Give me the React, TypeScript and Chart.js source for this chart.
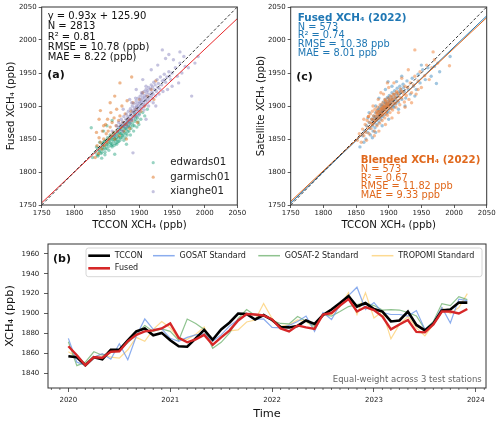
import React, { useEffect, useRef } from "react";
import { Chart, registerables } from "chart.js";

Chart.register(...registerables);

const FONT = '"DejaVu Sans", sans-serif';
Chart.defaults.font.family = FONT;

// ---------- Panel (a): Fused vs TCCON by station ----------
const EDWARDS01: number[][] = [
  [1828, 1822], [1832, 1830], [1835, 1826], [1836, 1835], [1838, 1831], [1840, 1838], [1841, 1828], [1843, 1842],
  [1844, 1834], [1845, 1845], [1846, 1838], [1847, 1830], [1848, 1848], [1849, 1841], [1850, 1836], [1851, 1852],
  [1852, 1844], [1853, 1839], [1854, 1848], [1855, 1856], [1856, 1843], [1857, 1850], [1858, 1838], [1859, 1855],
  [1860, 1846], [1861, 1860], [1862, 1851], [1863, 1843], [1864, 1857], [1865, 1849], [1866, 1862], [1867, 1854],
  [1868, 1846], [1869, 1860], [1870, 1866], [1871, 1852], [1872, 1858], [1873, 1869], [1874, 1855], [1875, 1862],
  [1876, 1848], [1877, 1866], [1878, 1872], [1879, 1858], [1880, 1864], [1881, 1876], [1882, 1861], [1883, 1869],
  [1885, 1874], [1886, 1856], [1887, 1866], [1888, 1880], [1890, 1870], [1891, 1862], [1893, 1877], [1895, 1884],
  [1896, 1868], [1898, 1876], [1900, 1888], [1902, 1880], [1905, 1890], [1908, 1885], [1912, 1895], [1850, 1870],
  [1845, 1862], [1826, 1867], [1862, 1827], [1880, 1842], [1858, 1878], [1839, 1845], [1834, 1838], [1893, 1888],
  [1842, 1821], [1837, 1826], [1839, 1833], [1842, 1830], [1844, 1840], [1846, 1846], [1848, 1835], [1850, 1842],
  [1852, 1849], [1853, 1833], [1855, 1845], [1856, 1852], [1858, 1842], [1859, 1849], [1860, 1853], [1861, 1840],
  [1862, 1856], [1863, 1848], [1864, 1852], [1866, 1845], [1867, 1858], [1868, 1852], [1869, 1864], [1870, 1848],
  [1871, 1858], [1872, 1864], [1873, 1852], [1874, 1868], [1875, 1856], [1876, 1870], [1877, 1860], [1878, 1852],
  [1879, 1866], [1880, 1872], [1881, 1856], [1882, 1868], [1884, 1862], [1884, 1876], [1886, 1870], [1889, 1874],
  [1892, 1870], [1894, 1880], [1897, 1882], [1899, 1872], [1843, 1836], [1847, 1826], [1857, 1840], [1865, 1842],
  [1836, 1824],
];
const GARMISCH01: number[][] = [
  [1832, 1822], [1835, 1840], [1837, 1828], [1838, 1852], [1840, 1845], [1842, 1835], [1843, 1862], [1845, 1850],
  [1846, 1840], [1848, 1872], [1849, 1858], [1850, 1845], [1851, 1880], [1852, 1862], [1853, 1850], [1855, 1868],
  [1856, 1890], [1857, 1855], [1858, 1875], [1860, 1860], [1861, 1882], [1862, 1850], [1864, 1870], [1865, 1895],
  [1866, 1862], [1868, 1878], [1869, 1855], [1870, 1885], [1872, 1868], [1873, 1900], [1875, 1875], [1876, 1862],
  [1878, 1888], [1880, 1872], [1881, 1908], [1883, 1880], [1885, 1866], [1887, 1892], [1888, 1878], [1890, 1905],
  [1892, 1885], [1895, 1895], [1897, 1875], [1900, 1910], [1902, 1892], [1905, 1920], [1908, 1900], [1912, 1915],
  [1918, 1925], [1922, 1910], [1840, 1893], [1838, 1880], [1855, 1905], [1870, 1935], [1888, 1944], [1925, 1938],
  [1862, 1915], [1845, 1870], [1834, 1860], [1880, 1850],
];
const XIANGHE01: number[][] = [
  [1858, 1862], [1862, 1855], [1865, 1870], [1866, 1861], [1868, 1875], [1870, 1864], [1872, 1880], [1873, 1870],
  [1874, 1862], [1876, 1884], [1877, 1874], [1878, 1868], [1880, 1888], [1881, 1878], [1882, 1870], [1883, 1892],
  [1884, 1882], [1885, 1874], [1886, 1896], [1887, 1886], [1888, 1878], [1889, 1900], [1890, 1890], [1891, 1882],
  [1892, 1904], [1893, 1894], [1894, 1885], [1895, 1908], [1896, 1898], [1897, 1888], [1898, 1912], [1899, 1901],
  [1900, 1892], [1901, 1915], [1902, 1905], [1903, 1896], [1904, 1918], [1905, 1908], [1906, 1899], [1907, 1922],
  [1908, 1912], [1909, 1902], [1910, 1925], [1911, 1915], [1912, 1905], [1914, 1928], [1915, 1918], [1916, 1908],
  [1918, 1932], [1919, 1921], [1920, 1912], [1922, 1936], [1923, 1925], [1925, 1915], [1927, 1940], [1928, 1928],
  [1930, 1918], [1932, 1944], [1934, 1932], [1936, 1922], [1938, 1948], [1940, 1936], [1943, 1925], [1945, 1952],
  [1948, 1940], [1950, 1930], [1955, 1958], [1958, 1945], [1962, 1965], [1965, 1950], [1970, 1960], [1975, 1958],
  [1980, 1915], [1985, 1965], [1990, 1975], [1940, 1972], [1935, 1985], [1945, 1978], [1962, 1982], [1890, 1829],
  [1895, 1925], [1885, 1910], [1905, 1940], [1918, 1955], [1875, 1895], [1928, 1962], [1952, 1970], [1968, 1975],
  [1910, 1880], [1925, 1900], [1960, 1935], [1868, 1868], [1871, 1872], [1874, 1876], [1876, 1870], [1879, 1880],
  [1880, 1874], [1882, 1884], [1884, 1878], [1886, 1888], [1887, 1880], [1889, 1893], [1890, 1884], [1892, 1897],
  [1893, 1889], [1895, 1900], [1896, 1892], [1897, 1904], [1898, 1895], [1900, 1906], [1901, 1898], [1902, 1910],
  [1904, 1902], [1905, 1913], [1906, 1905], [1908, 1916], [1909, 1908], [1911, 1920], [1912, 1910], [1913, 1923],
  [1915, 1913], [1917, 1926], [1918, 1916], [1920, 1929], [1921, 1918], [1924, 1932], [1926, 1922], [1929, 1934],
  [1931, 1926], [1935, 1938], [1938, 1940], [1942, 1944], [1946, 1945], [1950, 1950], [1888, 1905], [1894, 1912],
  [1903, 1920], [1910, 1930], [1899, 1886], [1907, 1894], [1914, 1900], [1921, 1905],
];
const FIT_A = [0.93, 125.9]; // slope, intercept
const STATS_A = ["y = 0.93x + 125.90", "N = 2813", "R² = 0.81", "RMSE = 10.78 (ppb)", "MAE = 8.22 (ppb)"];
const STATIONS = ["edwards01", "garmisch01", "xianghe01"];

// ---------- Panel (c): Fused vs Blended (2022) ----------
const FUSED_2022: number[][] = [
  [1856, 1838], [1860, 1855], [1863, 1862], [1865, 1850], [1866, 1870], [1868, 1860], [1870, 1875], [1871, 1866],
  [1872, 1856], [1874, 1880], [1875, 1870], [1876, 1862], [1877, 1885], [1878, 1875], [1879, 1867], [1880, 1890],
  [1881, 1880], [1882, 1872], [1883, 1894], [1884, 1884], [1885, 1876], [1886, 1898], [1887, 1888], [1888, 1880],
  [1889, 1902], [1890, 1892], [1891, 1884], [1892, 1906], [1893, 1896], [1894, 1887], [1895, 1910], [1896, 1900],
  [1897, 1891], [1898, 1913], [1899, 1903], [1900, 1894], [1901, 1916], [1902, 1906], [1903, 1897], [1905, 1920],
  [1906, 1910], [1907, 1900], [1909, 1923], [1910, 1913], [1911, 1903], [1913, 1927], [1914, 1916], [1915, 1906],
  [1917, 1930], [1918, 1920], [1920, 1910], [1922, 1933], [1924, 1922], [1926, 1912], [1928, 1938], [1930, 1925],
  [1933, 1918], [1936, 1942], [1938, 1930], [1942, 1925], [1945, 1948], [1948, 1935], [1952, 1955], [1956, 1940],
  [1960, 1958], [1965, 1945], [1973, 1934], [1978, 1952], [1994, 1975], [1912, 1937], [1899, 1937], [1870, 1890],
  [1885, 1912], [1895, 1925], [1880, 1860], [1890, 1870], [1900, 1880], [1875, 1852], [1862, 1845], [1915, 1895],
  [1925, 1900], [1940, 1915], [1880, 1900], [1868, 1882], [1905, 1930], [1920, 1945], [1950, 1962], [1970, 1960],
  [1876, 1878], [1878, 1882], [1880, 1884], [1882, 1880], [1884, 1890], [1886, 1886], [1887, 1892], [1889, 1889],
  [1890, 1896], [1891, 1893], [1893, 1900], [1894, 1895], [1896, 1904], [1897, 1898], [1899, 1907], [1900, 1901],
  [1902, 1909], [1903, 1903], [1905, 1913], [1906, 1906], [1908, 1917], [1910, 1909], [1912, 1919], [1916, 1922],
  [1919, 1925], [1923, 1928], [1890, 1900], [1895, 1905], [1900, 1912], [1885, 1895], [1888, 1884], [1898, 1890],
  [1908, 1898],
];
const BLENDED_2022: number[][] = [
  [1852, 1848], [1855, 1858], [1858, 1845], [1860, 1865], [1862, 1855], [1864, 1872], [1865, 1860], [1867, 1878],
  [1868, 1868], [1869, 1884], [1870, 1858], [1871, 1875], [1872, 1888], [1873, 1866], [1874, 1880], [1875, 1892],
  [1876, 1872], [1877, 1885], [1878, 1862], [1879, 1895], [1880, 1878], [1881, 1889], [1882, 1870], [1883, 1898],
  [1884, 1882], [1885, 1892], [1886, 1874], [1887, 1902], [1888, 1886], [1889, 1895], [1890, 1878], [1891, 1905],
  [1892, 1890], [1893, 1898], [1894, 1882], [1895, 1908], [1896, 1894], [1897, 1902], [1898, 1886], [1899, 1912],
  [1900, 1898], [1901, 1905], [1902, 1890], [1903, 1915], [1904, 1902], [1905, 1910], [1906, 1894], [1907, 1918],
  [1908, 1905], [1910, 1914], [1911, 1898], [1912, 1922], [1914, 1908], [1915, 1918], [1917, 1902], [1918, 1926],
  [1920, 1912], [1922, 1922], [1924, 1906], [1925, 1930], [1927, 1916], [1929, 1928], [1931, 1910], [1933, 1935],
  [1935, 1920], [1938, 1932], [1940, 1945], [1942, 1918], [1945, 1938], [1948, 1952], [1950, 1928], [1955, 1946],
  [1958, 1962], [1962, 1940], [1966, 1958], [1970, 1970], [1975, 1965], [1968, 1982], [1940, 1985], [1993, 1961],
  [1869, 1884], [1862, 1880], [1876, 1900], [1884, 1910], [1892, 1918], [1900, 1928], [1908, 1935], [1920, 1942],
  [1930, 1955], [1885, 1862], [1895, 1872], [1905, 1882], [1915, 1890], [1925, 1898], [1935, 1905], [1878, 1855],
  [1866, 1848], [1888, 1920], [1898, 1935], [1945, 1925], [1874, 1874], [1876, 1880], [1878, 1876], [1880, 1884],
  [1881, 1880], [1883, 1888], [1884, 1886], [1886, 1892], [1887, 1888], [1888, 1896], [1889, 1890], [1890, 1898],
  [1891, 1894], [1892, 1900], [1893, 1894], [1894, 1902], [1895, 1898], [1896, 1906], [1897, 1898], [1898, 1904],
  [1899, 1900], [1900, 1908], [1901, 1902], [1902, 1910], [1904, 1906], [1905, 1914], [1907, 1910], [1909, 1918],
  [1911, 1912], [1913, 1920], [1916, 1914], [1919, 1922], [1923, 1918], [1886, 1882], [1882, 1892], [1890, 1886],
  [1896, 1888], [1894, 1910], [1904, 1896], [1910, 1904],
];
const FIT_FUSED = [0.945, 99.3];
const FIT_BLENDED = [0.928, 131.5];
const STATS_FUSED = ["N = 573", "R² = 0.74", "RMSE = 10.38 ppb", "MAE = 8.01 ppb"];
const STATS_BLENDED = ["N = 573", "R² = 0.67", "RMSE = 11.82 ppb", "MAE = 9.33 ppb"];
const SCATTER_TICKS = [1750, 1800, 1850, 1900, 1950, 2000, 2050];

// ---------- Panel (b): monthly time series 2020-01 .. 2023-12 ----------
const YEARS = [2020, 2021, 2022, 2023, 2024];
const TS_Y_TICKS = [1840, 1860, 1880, 1900, 1920, 1940, 1960];
const TCCON = [
  1857, 1856, 1848, 1856, 1854, 1863.5, 1863.5, 1873, 1882, 1885, 1878, 1880.5,
  1873, 1867, 1866.5, 1875, 1883.5, 1873.5, 1884, 1891, 1900, 1899.5, 1894, 1898.5,
  1893.5, 1886.5, 1886, 1887.5, 1893, 1889.5, 1898.5, 1904, 1910.5, 1917.5, 1907, 1910.5,
  1904.5, 1902, 1892, 1893, 1902, 1888.5, 1883, 1890, 1903, 1904, 1911, 1911,
];
const FUSED = [
  1867, 1858, 1848, 1856, 1855.5, 1861.5, 1862, 1872, 1878.5, 1882, 1883, 1885,
  1890, 1875.5, 1871, 1874, 1878.5, 1868.5, 1876, 1883, 1893, 1899.5, 1899, 1898,
  1894, 1885, 1882, 1888, 1886, 1884.5, 1899, 1900.5, 1908, 1914.5, 1902, 1906.5,
  1903.5, 1897, 1884, 1889, 1893.5, 1881.5, 1881, 1889, 1902, 1902, 1900, 1904.5,
];
const GOSAT = [
  1875, 1851, 1848, 1856, 1859.5, 1854, 1869.5, 1853.5, 1877, 1894.5, 1884, 1884.5,
  1875, 1872, 1876, 1878.5, 1879.5, 1872, 1878.5, 1887.5, 1894, 1898.5, 1894, 1894.5,
  1886, 1885.5, 1888, 1892, 1897.5, 1882, 1901, 1894, 1909, 1918, 1926.5, 1904,
  1911, 1901, 1899, 1899, 1897.5, 1903, 1884, 1891, 1906, 1890.5, 1914.5, 1913,
];
const GOSAT2 = [
  1871.5, 1847.5, 1851, 1861.5, 1858, 1861, 1863, 1870.5, 1879, 1888, 1882, 1884.5,
  1882, 1873, 1894.5, 1890, 1884, 1865, 1871, 1880.5, 1895, 1904, 1898, 1897.5,
  1893, 1890, 1889.5, 1897, 1892.5, 1887, 1899, 1897.5, 1902, 1907, 1909, 1910.5,
  1908, 1903.5, 1904, 1903.5, 1901, 1897.5, 1884, 1892, 1910, 1908, 1917, 1914,
];
const TROPOMI = [
  1861.5, 1856, 1848, 1856, 1859, 1856, 1855, 1863.5, 1876, 1872, 1884, 1892,
  1885.5, 1874.5, 1874, 1879, 1886.5, 1868.5, 1876, 1882.5, 1883.5, 1891.5, 1893.5, 1910,
  1895, 1887, 1888.5, 1893.5, 1892, 1885, 1898.5, 1899, 1907, 1921, 1899, 1921,
  1895.5, 1902, 1874.5, 1889, 1897, 1885.5, 1877.5, 1889, 1906, 1900, 1906, 1920,
];

// ---------- helpers ----------
const FRAME = "#333";
const toXY = (pts: number[][]) => pts.map(([x, y]) => ({ x, y }));
const monthX = (i: number) => YEARS[0] + i / 12;
const series = (vals: number[]) => vals.map((y, i) => ({ x: monthX(i), y }));
const fitLine = (f: number[]) => [1750, 2050].map((x) => ({ x, y: f[0] * x + f[1] }));

function txt(ctx: any, s: string, x: number, y: number, font: string, color: string, align = "left") {
  ctx.save();
  ctx.font = font;
  ctx.fillStyle = color;
  ctx.textAlign = align;
  ctx.textBaseline = "middle";
  ctx.fillText(s, x, y);
  ctx.restore();
}

function drawFrame(chart: any) {
  const { ctx, chartArea: a } = chart;
  ctx.save();
  ctx.strokeStyle = FRAME;
  ctx.lineWidth = 1;
  ctx.strokeRect(a.left, a.top, a.right - a.left, a.bottom - a.top);
  ctx.restore();
}

function scatterScale(title: string, isX: boolean, yWidth: number, xHeight: number) {
  return {
    type: "linear",
    min: 1750,
    max: 2050,
    afterBuildTicks: (s: any) => {
      s.ticks = SCATTER_TICKS.map((v) => ({ value: v }));
    },
    afterFit: (s: any) => {
      if (isX) s.height = xHeight;
      else s.width = yWidth;
    },
    grid: { drawOnChartArea: false, drawTicks: true, tickLength: 3, color: FRAME, tickWidth: 0.8 },
    border: { display: false },
    ticks: {
      font: { size: 7, family: FONT },
      color: "#222",
      padding: isX ? 1 : 2,
      maxRotation: 0,
      autoSkip: false,
      callback: (v: any) => String(v),
    },
    title: {
      display: true,
      text: title,
      color: "#111",
      font: { size: 10.2, family: FONT },
      padding: isX ? { top: 0, bottom: 0.9 } : { top: 5.6, bottom: 0 },
    },
  };
}

const STATION_COLORS = ["rgba(27,158,119,0.45)", "rgba(217,95,2,0.45)", "rgba(117,112,179,0.42)"];
const FUSED_COLOR = "#1f77b4";
const BLENDED_COLOR = "#e0681c";
const DOT = 1.7;

function makeA(canvas: HTMLCanvasElement) {
  const pts = (data: number[][], color: string, order: number) => ({
    data: toXY(data),
    backgroundColor: color,
    borderWidth: 0,
    pointRadius: DOT,
    pointStyle: "circle",
    order,
  });
  return new Chart(canvas, {
    type: "scatter",
    data: {
      datasets: [
        { label: STATIONS[0], ...pts(EDWARDS01, STATION_COLORS[0], 4) },
        { label: STATIONS[1], ...pts(GARMISCH01, STATION_COLORS[1], 3) },
        { label: STATIONS[2], ...pts(XIANGHE01, STATION_COLORS[2], 2) },
        { label: "fit", data: fitLine(FIT_A), showLine: true, pointRadius: 0, borderColor: "#e8282a", borderWidth: 1, order: 1 },
        { label: "1:1", data: [{ x: 1750, y: 1750 }, { x: 2050, y: 2050 }], showLine: true, pointRadius: 0, borderColor: "#000", borderWidth: 0.8, borderDash: [3, 2], order: 0 },
      ],
    },
    options: {
      responsive: false,
      animation: false,
      events: [],
      layout: { padding: { left: 0, right: 12.7, top: 7, bottom: 0 } },
      plugins: { legend: { display: false }, tooltip: { enabled: false } },
      scales: {
        x: scatterScale("TCCON XCH₄ (ppb)", true, 41.7, 27),
        y: scatterScale("Fused XCH₄ (ppb)", false, 41.7, 27),
      },
    } as any,
    plugins: [
      {
        id: "decorA",
        afterDatasetsDraw: (chart: any) => drawFrame(chart),
        afterDraw: (chart: any) => {
          const { ctx, chartArea: a } = chart;
          STATS_A.forEach((s, i) => txt(ctx, s, a.left + 6, a.top + 9.7 + i * 10.15, `10px ${FONT}`, "#111"));
          txt(ctx, "(a)", a.left + 5.5, a.top + 68, `bold 11px ${FONT}`, "#111");
          STATIONS.forEach((s, i) => {
            const y = a.top + 155.7 + i * 14.5;
            ctx.save();
            ctx.fillStyle = STATION_COLORS[i];
            ctx.beginPath();
            ctx.arc(a.left + 111.5, y, 1.6, 0, Math.PI * 2);
            ctx.fill();
            ctx.restore();
            txt(ctx, s, a.left + 128.5, y, `10.2px ${FONT}`, "#222");
          });
        },
      },
    ],
  } as any);
}

function makeC(canvas: HTMLCanvasElement) {
  return new Chart(canvas, {
    type: "scatter",
    data: {
      datasets: [
        { label: "Fused", data: toXY(FUSED_2022), backgroundColor: "rgba(31,119,180,0.42)", borderWidth: 0, pointRadius: DOT, order: 4 },
        { label: "Blended", data: toXY(BLENDED_2022), backgroundColor: "rgba(238,120,40,0.48)", borderWidth: 0, pointRadius: DOT, order: 3 },
        { label: "fitF", data: fitLine(FIT_FUSED), showLine: true, pointRadius: 0, borderColor: FUSED_COLOR, borderWidth: 1, order: 2 },
        { label: "fitB", data: fitLine(FIT_BLENDED), showLine: true, pointRadius: 0, borderColor: BLENDED_COLOR, borderWidth: 1, order: 1 },
        { label: "1:1", data: [{ x: 1750, y: 1750 }, { x: 2050, y: 2050 }], showLine: true, pointRadius: 0, borderColor: "#000", borderWidth: 0.8, borderDash: [3, 2], order: 0 },
      ],
    },
    options: {
      responsive: false,
      animation: false,
      events: [],
      layout: { padding: { left: 0, right: 13.3, top: 7, bottom: 0 } },
      plugins: { legend: { display: false }, tooltip: { enabled: false } },
      scales: {
        x: scatterScale("TCCON XCH₄ (ppb)", true, 40.7, 27),
        y: scatterScale("Satellite XCH₄ (ppb)", false, 40.7, 27),
      },
    } as any,
    plugins: [
      {
        id: "decorC",
        afterDatasetsDraw: (chart: any) => drawFrame(chart),
        afterDraw: (chart: any) => {
          const { ctx, chartArea: a } = chart;
          txt(ctx, "Fused XCH₄ (2022)", a.left + 7, a.top + 11.3, `bold 10.4px ${FONT}`, FUSED_COLOR);
          STATS_FUSED.forEach((s, i) => txt(ctx, s, a.left + 7, a.top + 20 + i * 8.8, `9.8px ${FONT}`, FUSED_COLOR));
          txt(ctx, "(c)", a.left + 5.5, a.top + 69.7, `bold 11px ${FONT}`, "#111");
          txt(ctx, "Blended XCH₄ (2022)", a.left + 70, a.top + 153.7, `bold 10.2px ${FONT}`, BLENDED_COLOR);
          STATS_BLENDED.forEach((s, i) => txt(ctx, s, a.left + 70, a.top + 162.4 + i * 8.6, `9.8px ${FONT}`, BLENDED_COLOR));
        },
      },
    ],
  } as any);
}

const TS_SERIES = [
  { label: "TCCON", values: TCCON, color: "#000000", width: 2.6, order: 1 },
  { label: "GOSAT Standard", values: GOSAT, color: "rgba(100,145,232,0.75)", width: 1.2, order: 2 },
  { label: "GOSAT-2 Standard", values: GOSAT2, color: "rgba(95,170,95,0.7)", width: 1.2, order: 3 },
  { label: "TROPOMI Standard", values: TROPOMI, color: "rgba(252,205,110,0.75)", width: 1.2, order: 4 },
  { label: "Fused", values: FUSED, color: "#d62728", width: 2.4, order: 0 },
];

function makeB(canvas: HTMLCanvasElement) {
  return new Chart(canvas, {
    type: "line",
    data: {
      datasets: TS_SERIES.map((s) => ({
        label: s.label,
        data: series(s.values),
        borderColor: s.color,
        borderWidth: s.width,
        pointRadius: 0,
        tension: 0,
        fill: false,
        order: s.order,
      })),
    },
    options: {
      responsive: false,
      animation: false,
      events: [],
      layout: { padding: { left: 0, right: 14, top: 12, bottom: 0 } },
      plugins: { legend: { display: false }, tooltip: { enabled: false } },
      scales: {
        x: {
          type: "linear",
          min: 2019.8,
          max: 2024.1,
          afterBuildTicks: (s: any) => {
            s.ticks = YEARS.map((v) => ({ value: v }));
          },
          afterFit: (s: any) => {
            s.height = 36;
          },
          grid: { drawOnChartArea: false, drawTicks: true, tickLength: 4, color: FRAME, tickWidth: 0.8 },
          border: { display: false },
          ticks: { font: { size: 7, family: FONT }, color: "#222", padding: 3.8, maxRotation: 0, autoSkip: false, callback: (v: any) => String(v) },
          title: { display: true, text: "Time", color: "#111", font: { size: 11.3, family: FONT }, padding: { top: 0, bottom: 3.2 } },
        },
        y: {
          type: "linear",
          min: 1825,
          max: 1970,
          afterBuildTicks: (s: any) => {
            s.ticks = TS_Y_TICKS.map((v) => ({ value: v }));
          },
          afterFit: (s: any) => {
            s.width = 48;
          },
          grid: { drawOnChartArea: false, drawTicks: true, tickLength: 4, color: FRAME, tickWidth: 0.8 },
          border: { display: false },
          ticks: { font: { size: 7, family: FONT }, color: "#222", padding: 4.7, autoSkip: false, callback: (v: any) => String(v) },
          title: { display: true, text: "XCH₄ (ppb)", color: "#111", font: { size: 11.3, family: FONT }, padding: { top: 3.2, bottom: 0 } },
        },
      },
    } as any,
    plugins: [
      {
        id: "decorB",
        afterDatasetsDraw: (chart: any) => {
          drawFrame(chart);
          const { ctx, chartArea: a, scales } = chart;
          const xs = scales.x;
          ctx.save();
          ctx.strokeStyle = FRAME;
          ctx.lineWidth = 0.7;
          for (let y = 2019; y <= 2024; y++) {
            for (let m = 1; m < 12; m++) {
              const v = y + m / 12;
              if (v < xs.min || v > xs.max) continue;
              const px = xs.getPixelForValue(v);
              ctx.beginPath();
              ctx.moveTo(px, a.bottom);
              ctx.lineTo(px, a.bottom + 2);
              ctx.stroke();
            }
          }
          ctx.restore();
        },
        afterDraw: (chart: any) => {
          const { ctx, chartArea: a } = chart;
          const bx = a.left + 38, by = a.top + 4, bw = 396, bh = 28.7, r = 2.5;
          ctx.save();
          ctx.fillStyle = "rgba(255,255,255,0.8)";
          ctx.strokeStyle = "#cccccc";
          ctx.lineWidth = 0.8;
          ctx.beginPath();
          ctx.moveTo(bx + r, by);
          ctx.lineTo(bx + bw - r, by);
          ctx.quadraticCurveTo(bx + bw, by, bx + bw, by + r);
          ctx.lineTo(bx + bw, by + bh - r);
          ctx.quadraticCurveTo(bx + bw, by + bh, bx + bw - r, by + bh);
          ctx.lineTo(bx + r, by + bh);
          ctx.quadraticCurveTo(bx, by + bh, bx, by + bh - r);
          ctx.lineTo(bx, by + r);
          ctx.quadraticCurveTo(bx, by, bx + r, by);
          ctx.closePath();
          ctx.fill();
          ctx.stroke();
          ctx.restore();
          const cols = [40.3, 105, 210.3, 323.7];
          const rows = [a.top + 11.7, a.top + 24.3];
          TS_SERIES.forEach((s, i) => {
            const col = i < 4 ? i : 0;
            const row = i < 4 ? 0 : 1;
            const x0 = a.left + cols[col];
            const y = rows[row];
            ctx.save();
            ctx.strokeStyle = s.color;
            ctx.lineWidth = s.width < 2 ? 1.5 : 2.6;
            ctx.beginPath();
            ctx.moveTo(x0, y);
            ctx.lineTo(x0 + 21.7, y);
            ctx.stroke();
            ctx.restore();
            txt(ctx, s.label, x0 + 26.5, y, `8px ${FONT}`, "#222");
          });
          txt(ctx, "(b)", a.left + 5, a.top + 15, `bold 11px ${FONT}`, "#111");
          txt(ctx, "Equal-weight across 3 test stations", a.right - 4.3, a.bottom - 8, `8.5px ${FONT}`, "#666", "right");
        },
      },
    ],
  } as any);
}

export default function App() {
  const aRef = useRef<HTMLCanvasElement>(null);
  const cRef = useRef<HTMLCanvasElement>(null);
  const bRef = useRef<HTMLCanvasElement>(null);

  useEffect(() => {
    const charts = [makeA(aRef.current!), makeC(cRef.current!), makeB(bRef.current!)];
    return () => charts.forEach((c) => c.destroy());
  }, []);

  const cs = (left: number, top: number, w: number, h: number): React.CSSProperties => ({
    position: "absolute",
    left,
    top,
    width: w,
    height: h,
    display: "block",
  });

  return (
    <div style={{ position: "absolute", left: 0, top: 0, width: 500, height: 424, background: "#fff", overflow: "hidden" }}>
      <canvas ref={aRef} width={250} height={232} style={cs(0, 0, 250, 232)} />
      <canvas ref={cRef} width={250} height={232} style={cs(250, 0, 250, 232)} />
      <canvas ref={bRef} width={500} height={192} style={cs(0, 232, 500, 192)} />
    </div>
  );
}
